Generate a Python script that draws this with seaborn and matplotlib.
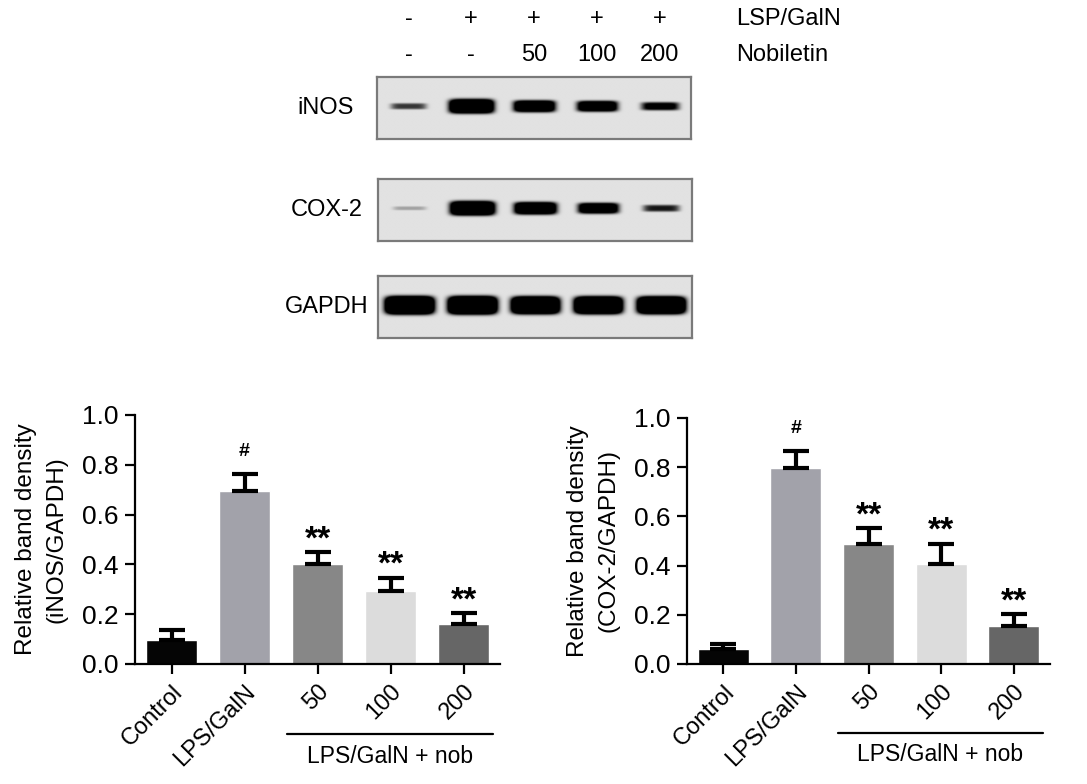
import numpy as np
import pandas as pd
import seaborn as sns
import matplotlib.pyplot as plt

# bar chart data
groups = ['Control', 'LPS/GalN', '50', '100', '200']
bar_colors = ['#050505', '#a2a2aa', '#878787', '#dcdcdc', '#666666']

inos_mean = [0.095, 0.694, 0.401, 0.294, 0.160]
inos_sem = [0.043, 0.067, 0.049, 0.053, 0.045]
cox2_mean = [0.061, 0.795, 0.486, 0.405, 0.155]
cox2_sem = [0.020, 0.070, 0.067, 0.084, 0.049]
marks = ['', '#', '**', '**', '**']

# western blot header and band strengths
lps_row = ['-', '+', '+', '+', '+']
nob_row = ['-', '-', '50', '100', '200']
blot_names = ['iNOS', 'COX-2', 'GAPDH']
inos_band = [0.32, 1.0, 0.8, 0.72, 0.5]
cox2_band = [0.12, 1.0, 0.85, 0.72, 0.38]
gapdh_band = [1.3, 1.3, 1.25, 1.25, 1.25]

FS = 17


def blot_image(strength):
	""" Build a grey blot strip from band strengths (one band per lane) """
	xs = np.linspace(-0.5, 4.5, 700)
	ys = np.linspace(0, 1, 140)
	X, Y = np.meshgrid(xs, ys)
	dark = np.zeros_like(X)
	for lane, s in enumerate(strength):
		w = 0.25 + 0.1 * s
		h = 0.02 + 0.09 * s
		prof = np.exp(-((X - lane) / w) ** 6 - ((Y - 0.52) / h) ** 4)
		dark = np.maximum(dark, np.clip(2.4 * s * prof, 0, 1))
	return 226 * (1 - dark)


def draw_bars(ax, mean, sem, name):
	data = pd.DataFrame({'group': groups, 'value': mean})
	sns.barplot(data=data, x='group', y='value', hue='group', palette=bar_colors, order=groups,
				width=0.7, saturation=1, legend=False, ax=ax, zorder=2)
	ax.errorbar(range(len(groups)), mean, yerr=[np.zeros(len(sem)), sem], fmt='none', ecolor='black',
				elinewidth=3, capsize=9.5, capthick=3, zorder=3)
	for i, m in enumerate(marks):
		if m == '#':
			ax.text(i, mean[i] + sem[i] + 0.075, m, ha='center', va='baseline', fontsize=14, fontweight='bold')
		elif m:
			ax.text(i, mean[i] + sem[i] + 0.015, m, ha='center', va='baseline', fontsize=24, fontweight='bold')
	ax.set_ylim(0, 1.0)
	ax.set_xlim(-0.5, 4.5)
	ax.set_yticks([0, 0.2, 0.4, 0.6, 0.8, 1.0])
	ax.set_yticklabels(['0.0', '0.2', '0.4', '0.6', '0.8', '1.0'], fontsize=19)
	ax.set_xticks(range(len(groups)))
	ax.set_xticklabels(groups, rotation=45, ha='right', rotation_mode='anchor', fontsize=FS)
	ax.set_xlabel('')
	ax.set_ylabel('Relative band density\n(%s/GAPDH)' % name, fontsize=17.5, labelpad=10, linespacing=1.5)
	ax.tick_params(width=1.6, length=7, pad=5, color='black')
	for side in ['left', 'bottom']:
		ax.spines[side].set_linewidth(1.6)
		ax.spines[side].set_color('black')
	sns.despine(ax=ax)
	# group bracket under the three nobiletin doses
	tr = ax.get_xaxis_transform()
	ax.plot([1.58, 4.4], [-0.28, -0.28], color='black', lw=1.6, transform=tr, clip_on=False)
	ax.text(2.99, -0.37, 'LPS/GalN + nob', ha='center', va='center', fontsize=16.5, transform=tr)


if __name__ == '__main__':
	sns.set_theme(style='ticks')
	plt.rcParams['font.family'] = ['Liberation Sans', 'DejaVu Sans']
	plt.rcParams['text.color'] = 'black'
	plt.rcParams['axes.labelcolor'] = 'black'
	plt.rcParams['xtick.color'] = 'black'
	plt.rcParams['ytick.color'] = 'black'

	fig = plt.figure(figsize=(10.87, 7.84), dpi=100)

	# western blot strips
	blot_axes = [fig.add_axes([0.3468, 0.8227, 0.2889, 0.0791]),
				 fig.add_axes([0.3478, 0.6926, 0.2889, 0.0791]),
				 fig.add_axes([0.3478, 0.5689, 0.2889, 0.0791])]
	label_gap = [-0.075, -0.05, -0.03]
	for ax, name, band, gap in zip(blot_axes, blot_names, [inos_band, cox2_band, gapdh_band], label_gap):
		ax.imshow(blot_image(band), cmap='gray', vmin=0, vmax=255, aspect='auto',
				  extent=(-0.5, 4.5, 0, 1), interpolation='bilinear', origin='lower')
		ax.set_xticks([])
		ax.set_yticks([])
		for sp in ax.spines.values():
			sp.set_color('#7a7a7a')
			sp.set_linewidth(1.6)
		ax.text(gap, 0.5, name, ha='right', va='center', fontsize=FS, transform=ax.transAxes)

	top = blot_axes[0]
	for i, (a, b) in enumerate(zip(lps_row, nob_row)):
		top.annotate(a, xy=(i, 0.976), xycoords=('data', 'figure fraction'), ha='center', va='center',
					 fontsize=FS, annotation_clip=False)
		top.annotate(b, xy=(i, 0.930), xycoords=('data', 'figure fraction'), ha='center', va='center',
					 fontsize=FS, annotation_clip=False)
	top.annotate('LSP/GalN', xy=(5.22, 0.976), xycoords=('data', 'figure fraction'), ha='left', va='center',
				 fontsize=FS, annotation_clip=False)
	top.annotate('Nobiletin', xy=(5.22, 0.930), xycoords=('data', 'figure fraction'), ha='left', va='center',
				 fontsize=FS, annotation_clip=False)

	# densitometry bar charts
	ax1 = fig.add_axes([0.1242, 0.1531, 0.3358, 0.3176])
	draw_bars(ax1, inos_mean, inos_sem, 'iNOS')
	ax2 = fig.add_axes([0.632, 0.1531, 0.334, 0.3138])
	draw_bars(ax2, cox2_mean, cox2_sem, 'COX-2')

	fig.savefig('out.png', dpi=100)
